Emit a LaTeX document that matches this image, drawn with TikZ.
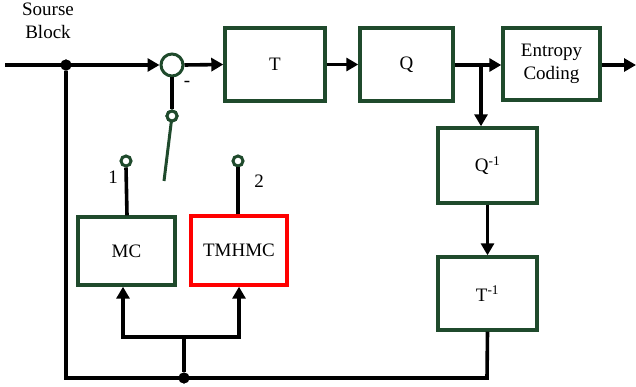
\documentclass[tikz,border=0pt]{standalone}
\usepackage{fontspec}
\setmainfont{Liberation Serif}
\usetikzlibrary{arrows.meta}
\definecolor{dgreen}{HTML}{1F4A2C}
\definecolor{bred}{HTML}{FF0000}
\begin{document}
\begin{tikzpicture}[x=1pt,y=-1pt,
  every node/.style={font=\fontsize{19}{23}\selectfont},
  blk/.style={draw=dgreen,line width=3.4pt,inner sep=0pt},
  conn/.style={line width=3.6pt,draw=black},
  arr/.style={conn,-{Triangle[length=12pt,width=13pt]}},
  junction/.style={circle,fill=black,inner sep=0pt,minimum size=11pt},
  term/.style={circle,draw=dgreen,fill=white,line width=3pt,inner sep=0pt,minimum size=10pt},
  lbl/.style={inner sep=1pt}]
\useasboundingbox (0,0) rectangle (636,387);
% blocks
\node[blk,minimum width=100pt,minimum height=73pt] (T) at (275,64.5) {T};
\node[blk,minimum width=93pt,minimum height=73pt] (Q) at (406.5,64.5) {Q};
\node[blk,minimum width=97pt,minimum height=72pt,align=center] (E) at (551.5,64) {Entropy\\Coding};
\node[blk,minimum width=99pt,minimum height=75pt] (Qi) at (487.5,165.5) {Q\textsuperscript{-1}};
\node[blk,minimum width=99pt,minimum height=73pt] (Ti) at (487.5,293.5) {T\textsuperscript{-1}};
\node[blk,minimum width=97pt,minimum height=68pt] (MC) at (126.5,251) {MC};
\node[blk,draw=bred,minimum width=96pt,minimum height=69pt] (TM) at (239,250.5) {TMHMC};
% sum and terminals
\node[circle,draw=dgreen,fill=white,line width=3pt,minimum size=22pt,inner sep=0pt] (sum) at (172,65) {};
\node[term] (sw) at (172,116) {};
\node[term] (t1) at (126,161) {};
\node[term] (t2) at (238,161) {};
\node[junction] (d1) at (66,65) {};
\node[junction] (d2) at (184,378) {};
\coordinate (in) at (5,65);
\coordinate (out) at (636,65);
\coordinate (br) at (481,65);
\coordinate (blade) at (164,181);
\coordinate (c1) at (487,378);
\coordinate (c2) at (66,378);
\coordinate (f) at (184,337);
% labels
\node[align=center] (src) at (48,21) {Sourse\\Block};
\node[lbl] (minus) at (187,84) {-};
\node[lbl] (l1) at (113,177) {1};
\node[lbl] (l2) at (259,181) {2};
% connectors
\draw[arr] (in) -- (sum.west);
\draw[arr] (sum.east) -- (T.west);
\draw[arr] (T.east) -- (Q.west);
\draw[arr] (Q.east |- br) -- (E.west |- br);
\draw[arr] (E.east |- out) -- (out);
\draw[arr] (br) -- (br |- Qi.north);
\draw[arr] (Qi.south) -- (Ti.north);
\draw[conn] (Ti.south) -- (c1) -- (c2) -- (d1);
\draw[conn] (d2) -- (f);
\draw[arr] (f) -| ([xshift=-3.5pt]MC.south);
\draw[arr] (f) -| (TM.south);
\draw[conn] (sum.south) -- (sw.north);
\draw[conn] ([xshift=0.5pt]MC.north) -- (t1.south);
\draw[conn] ([xshift=-1pt]TM.north) -- (t2.south);
\draw[dgreen,line width=3pt] (sw.center) -- (blade);
\node[term] at (sw) {};
\node[junction] at (d1) {};
\node[junction] at (d2) {};
\end{tikzpicture}
\end{document}
